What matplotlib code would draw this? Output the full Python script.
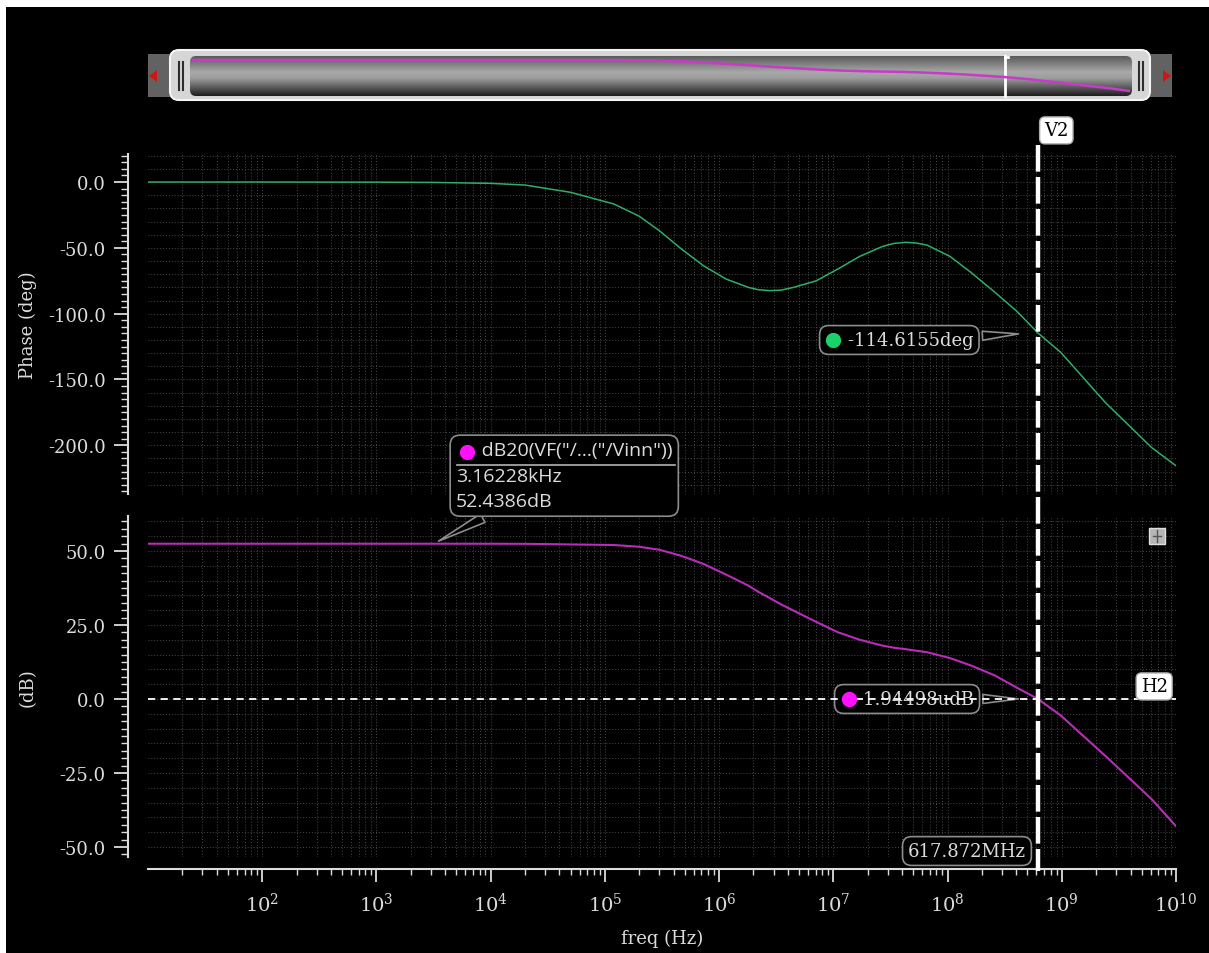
"""
Bode plot (phase + gain) cua op-amp, kieu man hinh waveform viewer
"""

import numpy as np
import matplotlib
matplotlib.use('Agg')
import matplotlib.pyplot as plt
from matplotlib.ticker import MultipleLocator, LogLocator, LogFormatterMathtext, FormatStrFormatter, NullFormatter
from matplotlib.patches import FancyBboxPatch, Rectangle, Polygon
from matplotlib.lines import Line2D
from matplotlib import transforms

plt.rcParams['font.family'] = 'DejaVu Serif'
plt.rcParams['mathtext.fontset'] = 'dejavuserif'

# ---- du lieu AC sweep ----
freq = [1e1, 1e2, 1e3, 3.16228e3, 1e4, 2e4, 5e4, 1.2e5, 2e5, 3e5,
        4.7e5, 7.3e5, 1.15e6, 1.8e6, 2.2e6, 2.8e6, 3.5e6, 4.5e6, 7.1e6, 1.1e7,
        1.7e7, 2.7e7, 3.4e7, 4.3e7, 5.3e7, 6.6e7, 1.05e8, 1.6e8, 2.6e8, 4.0e8,
        6.17872e8, 9.8e8, 2.4e9, 6.1e9, 1e10]
phase = [0, 0, -0.1, -0.3, -1.0, -2.3, -7.8, -16.7, -26.0, -37.0,
         -51.0, -63.6, -73.7, -80.0, -81.8, -82.5, -82.1, -80.0, -75.0, -66.0,
         -56.5, -48.9, -46.6, -45.8, -46.3, -47.9, -56.5, -68.6, -83.8, -97.8,
         -114.6155, -129.4, -167.4, -201.6, -215.6]
mag = [52.4386, 52.4386, 52.4386, 52.4386, 52.43, 52.4, 52.2, 52.0, 51.4, 50.4,
       48.3, 45.6, 42.0, 38.3, 36.2, 34.0, 31.9, 29.8, 26.0, 22.5,
       20.0, 18.0, 17.3, 16.8, 16.3, 15.8, 13.8, 11.3, 7.9, 3.9,
       1.94498e-6, -5.6, -19.2, -33.8, -43.0]

# gia tri cac marker
cur_f = 3.16228e3
cur_db = 52.4386
ugf = 617.872e6
ugf_phase = -114.6155
ugf_db = 1.94498e-6
h2_level = 0.0

W, H = 1209, 954
TXT = '#dcdcdc'
GRID = '#4a4a4a'
GREEN = '#2fae66'
MAGENTA = '#b92cb9'


def px_rect(x0, y0, x1, y1):
    return [x0 / W, 1 - y1 / H, (x1 - x0) / W, (y1 - y0) / H]


fig = plt.figure(figsize=(W / 100, H / 100), dpi=100, facecolor='black')

# ---- nen, vien trang va thanh cuon phia tren ----
ax_px = fig.add_axes([0, 0, 1, 1], zorder=-1)
ax_px.set_xlim(0, W)
ax_px.set_ylim(H, 0)
ax_px.axis('off')
ax_px.add_patch(Rectangle((0, 0), W, 8, fc='white', ec='none'))
ax_px.add_patch(Rectangle((0, 0), 6, H, fc='white', ec='none'))

ax_px.add_patch(Rectangle((148, 55), 26, 43, fc='#626262', ec='none'))
ax_px.add_patch(Rectangle((1146, 55), 26, 43, fc='#626262', ec='none'))
ax_px.add_patch(Polygon([(149, 77), (157, 71), (157, 83)], fc='#d01515', ec='none'))
ax_px.add_patch(Polygon([(1171, 77), (1163, 71), (1163, 83)], fc='#d01515', ec='none'))
ax_px.add_patch(FancyBboxPatch((170, 51), 980, 50, boxstyle='round,pad=0,rounding_size=9',
                               fc='#d6d6d6', ec='#f4f4f4', lw=1.5))

# gradient xam ben trong thanh cuon
stops_y = [0.0, 0.4, 0.55, 1.0]
stops_c = [0.36, 0.66, 0.62, 0.12]
g = np.interp(np.linspace(0, 1, 60), stops_y, stops_c)
grad = np.repeat(g[:, None, None], 3, axis=2) * np.ones((60, 2, 3))
im = ax_px.imshow(grad, extent=(190, 1132, 97, 57), aspect='auto', origin='upper', zorder=2)
clip = FancyBboxPatch((190, 57), 942, 40, boxstyle='round,pad=0,rounding_size=6',
                      fc='none', ec='none', transform=ax_px.transData)
im.set_clip_path(clip)
for xx in (179, 183, 1139, 1143):
    ax_px.plot([xx, xx], [63, 91], color='#2e2e2e', lw=1.5, zorder=3)
ax_px.plot([1005, 1005], [57, 97], color='white', lw=2, zorder=4)
ax_px.plot([1005, 1008], [58, 58], color='white', lw=2, zorder=4)

# duong gain thu nho trong thanh cuon
ax_th = fig.add_axes(px_rect(192, 57, 1130, 97), zorder=1)
ax_th.set_xscale('log')
ax_th.set_xlim(10, 1e10)
ax_th.set_ylim(-58.4, 64.7)
ax_th.plot(freq, mag, color='#c83ac8', lw=1.8)
ax_th.axis('off')
ax_th.patch.set_visible(False)

# ---- hai do thi chinh ----
ax_ph = fig.add_axes(px_rect(148, 155, 1176, 495))
ax_db = fig.add_axes(px_rect(148, 517, 1176, 858), sharex=ax_ph)

for ax in (ax_ph, ax_db):
    ax.set_facecolor('black')
    ax.set_xscale('log')
    for s in ('top', 'right'):
        ax.spines[s].set_visible(False)
    ax.spines['left'].set_position(('outward', 14.4))
    ax.spines['left'].set_color(TXT)
    ax.spines['left'].set_linewidth(1.5)
    ax.tick_params(axis='y', which='major', direction='out', length=10, width=1.3,
                   color=TXT, labelcolor=TXT, labelsize=13, pad=6)
    ax.tick_params(axis='y', which='minor', direction='out', length=5, width=1.0, color=TXT)
    ax.yaxis.set_major_formatter(FormatStrFormatter('%.1f'))
    ax.grid(which='both', axis='x', color=GRID, linestyle=(0, (1, 2)), linewidth=0.7)

ax_db.set_xlim(10, 1e10)
ax_db.set_xticks(10.0 ** np.arange(2, 11))
ax_db.xaxis.set_major_formatter(LogFormatterMathtext())
ax_db.xaxis.set_minor_locator(LogLocator(base=10, subs=np.arange(2, 10), numticks=20))
ax_db.xaxis.set_minor_formatter(NullFormatter())

ax_ph.set_ylim(-237, 21.3)
ax_ph.yaxis.set_major_locator(MultipleLocator(50))
ax_ph.yaxis.set_minor_locator(MultipleLocator(5))
ax_db.set_ylim(-53.4, 61.8)
ax_db.yaxis.set_major_locator(MultipleLocator(25))
ax_db.yaxis.set_minor_locator(MultipleLocator(2.5))

for v in np.arange(-230, 21, 10):
    ax_ph.axhline(v, color=GRID, linestyle=(0, (1, 2)), linewidth=0.7, zorder=0.5)
for v in np.arange(-50, 61, 5):
    ax_db.axhline(v, color=GRID, linestyle=(0, (1, 2)), linewidth=0.7, zorder=0.5)

ax_ph.spines['bottom'].set_visible(False)
ax_ph.tick_params(axis='x', which='both', length=0, labelbottom=False)
ax_db.spines['bottom'].set_position(('outward', 8.6))
ax_db.spines['bottom'].set_color(TXT)
ax_db.spines['bottom'].set_linewidth(1.5)
ax_db.tick_params(axis='x', which='major', direction='out', length=9.4, width=1.3,
                  color=TXT, labelcolor=TXT, labelsize=14, pad=7)
ax_db.tick_params(axis='x', which='minor', direction='out', length=4, width=1.0, color=TXT)

ax_ph.plot(freq, phase, color=GREEN, lw=1.1, zorder=3)
ax_db.plot(freq, mag, color=MAGENTA, lw=1.5, zorder=3)
ax_db.axhline(h2_level, color='white', lw=1.3, linestyle=(0, (4, 3)), zorder=5)

ax_ph.set_ylabel('Phase (deg)', color=TXT, fontsize=13)
ax_ph.yaxis.set_label_coords(-0.108, 0.5)
ax_db.set_ylabel('(dB)', color=TXT, fontsize=13)
ax_db.yaxis.set_label_coords(-0.108, 0.5)
ax_db.set_xlabel('freq (Hz)', color=TXT, fontsize=13, labelpad=10)

# ---- marker va nhan ----
box = dict(boxstyle='round,pad=0.3,rounding_size=0.5', fc='black', ec='#8c8c8c', lw=1.2)
wedge = dict(arrowstyle='wedge,tail_width=0.5,shrink_factor=0.5', fc='black',
             ec='#8c8c8c', lw=1.2, shrinkB=14)

ax_ph.annotate('    ' + f'{ugf_phase:.4f}deg', xy=(ugf, ugf_phase), xytext=(825, H - 341),
               textcoords='figure pixels', ha='left', va='center', fontsize=13, color=TXT,
               bbox=box, arrowprops=wedge, zorder=6)
fig.add_artist(Line2D([833 / W], [1 - 341 / H], transform=fig.transFigure, marker='o',
                      ms=10, color='#19d36a', ls='none'))

ax_db.annotate('    ' + f'{ugf_db * 1e6:.5f}udB', xy=(ugf, ugf_db), xytext=(840, H - 700),
               textcoords='figure pixels', ha='left', va='center', fontsize=13, color=TXT,
               bbox=box, arrowprops=wedge, zorder=4)
fig.add_artist(Line2D([849 / W], [1 - 700 / H], transform=fig.transFigure, marker='o',
                      ms=10, color='#ff10ff', ls='none'))

ax_db.annotate('     dB20(VF("/...("/Vinn"))\n' + f'{cur_f / 1e3:.5f}kHz\n{cur_db:.4f}dB',
               xy=(cur_f, cur_db), xytext=(456, H - 442), textcoords='figure pixels',
               ha='left', va='top', fontsize=14, family='Open Sans', color=TXT,
               linespacing=1.55, bbox=box, arrowprops=dict(wedge, shrinkB=4),
               annotation_clip=False, zorder=6)
fig.add_artist(Line2D([457 / W, 675 / W], [1 - 466 / H] * 2, transform=fig.transFigure,
                      color='#b4b4b4', lw=1.2))
fig.add_artist(Line2D([467 / W], [1 - 453 / H], transform=fig.transFigure, marker='o',
                      ms=10, color='#ff10ff', ls='none'))

ax_db.annotate(f'{ugf / 1e6:.3f}MHz', xy=(ugf, 0), xycoords=('data', 'axes fraction'),
               xytext=(-8.6, 4.3), textcoords='offset points', ha='right', va='center',
               fontsize=13, color=TXT, bbox=box, annotation_clip=False, zorder=6)

label_box = dict(boxstyle='round,pad=0.25,rounding_size=0.3', fc='white', ec='#aaaaaa', lw=1)
ax_ph.annotate('V2', xy=(ugf, 1), xycoords=('data', 'axes fraction'), xytext=(4.5, 17),
               textcoords='offset points', ha='left', va='center', fontsize=13,
               color='black', bbox=label_box, annotation_clip=False, zorder=6)
ax_db.annotate('H2', xy=(1, h2_level), xycoords=('axes fraction', 'data'), xytext=(-6, 9),
               textcoords='offset points', ha='right', va='center', fontsize=13,
               color='black', bbox=label_box, annotation_clip=False, zorder=6)

# duong marker doc V2
trans = transforms.blended_transform_factory(ax_db.transData, fig.transFigure)
fig.add_artist(Line2D([ugf, ugf], [1 - 146 / H, 1 - 872 / H], transform=trans,
                      color='white', lw=3.2, linestyle=(0, (6, 1.2)), zorder=5))

# icon nho goc phai
fig.add_artist(Rectangle((1149 / W, 1 - 545 / H), 16 / W, 16 / H, transform=fig.transFigure,
                         fc='#b5b5b5', ec='#dedede', lw=1))
fig.add_artist(Line2D([1157 / W, 1157 / W], [1 - 531 / H, 1 - 543 / H],
                      transform=fig.transFigure, color='#555555', lw=1))
fig.add_artist(Line2D([1153 / W, 1161 / W], [1 - 537 / H, 1 - 537 / H],
                      transform=fig.transFigure, color='#555555', lw=1))

fig.savefig('out.png', dpi=100, facecolor='black')
